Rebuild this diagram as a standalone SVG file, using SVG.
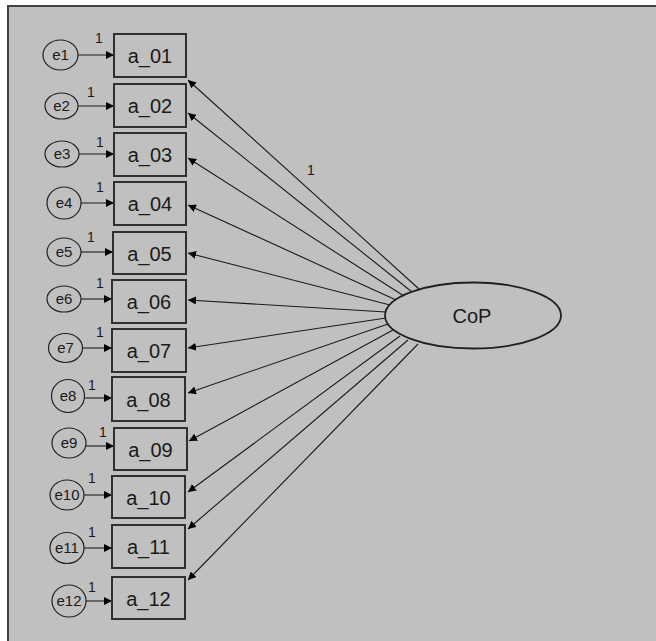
<svg xmlns="http://www.w3.org/2000/svg" width="656" height="641" viewBox="0 0 656 641">
  <style>
    .frame { fill: #c0c0c0; }
    .edge { stroke: #404040; stroke-width: 2; fill: none; }
    .box { fill: none; stroke: #303030; stroke-width: 2; }
    .err { fill: none; stroke: #202020; stroke-width: 1.2; }
    .lat { fill: none; stroke: #202020; stroke-width: 1.8; }
    .lbl { font-family: "Liberation Sans", Arial, sans-serif; font-size: 20px; fill: #1a1a1a; text-anchor: middle; }
    .elbl { font-family: "Liberation Sans", Arial, sans-serif; font-size: 15px; fill: #1a1a1a; text-anchor: middle; }
    .one { font-family: "Liberation Sans", Arial, sans-serif; font-size: 14px; fill: #1a1a1a; text-anchor: middle; }
    .con { stroke: #1a1a1a; stroke-width: 1.1; fill: none; marker-end: url(#tip); }
  </style>
  <defs>
    <marker id="tip" markerUnits="userSpaceOnUse" markerWidth="9" markerHeight="8" refX="8" refY="4" orient="auto">
      <path d="M0,0 L8,4 L0,8 z" fill="#000"/>
    </marker>
  </defs>

  <!-- canvas -->
  <rect x="0" y="0" width="656" height="641" fill="#ffffff"/>
  <rect class="frame" x="8" y="6" width="648" height="635"/>
  <path class="edge" d="M8,641 L8,6 L656,6"/>

  <!-- connectors -->
  <g id="connectors">
    <!-- error terms to indicators -->
    <line class="con" x1="78" y1="55" x2="114" y2="55"/>
    <line class="con" x1="78" y1="106" x2="114" y2="106"/>
    <line class="con" x1="79" y1="154" x2="114" y2="154"/>
    <line class="con" x1="81" y1="203" x2="114" y2="203"/>
    <line class="con" x1="81" y1="252" x2="113" y2="252"/>
    <line class="con" x1="81" y1="299" x2="112" y2="299"/>
    <line class="con" x1="83" y1="348" x2="112" y2="348"/>
    <line class="con" x1="85" y1="398" x2="112" y2="398"/>
    <line class="con" x1="86" y1="446" x2="114" y2="446"/>
    <line class="con" x1="84" y1="495" x2="112" y2="495"/>
    <line class="con" x1="84" y1="548" x2="112" y2="548"/>
    <line class="con" x1="86" y1="601" x2="112" y2="601"/>
    <!-- CoP loadings -->
    <line class="con" x1="419" y1="289" x2="188" y2="80"/>
    <line class="con" x1="412" y1="292" x2="188" y2="113"/>
    <line class="con" x1="404" y1="296" x2="188" y2="158"/>
    <line class="con" x1="396" y1="300" x2="188" y2="205"/>
    <line class="con" x1="390" y1="305" x2="188" y2="253"/>
    <line class="con" x1="386" y1="312" x2="188" y2="300"/>
    <line class="con" x1="386" y1="318" x2="188" y2="348"/>
    <line class="con" x1="388" y1="324" x2="188" y2="393"/>
    <line class="con" x1="393" y1="330" x2="189" y2="441"/>
    <line class="con" x1="400" y1="336" x2="188" y2="492"/>
    <line class="con" x1="408" y1="340" x2="188" y2="529"/>
    <line class="con" x1="418" y1="344" x2="188" y2="580"/>
    <!-- path weights -->
    <text class="one" x="311" y="175">1</text>
    <text class="one" x="99" y="43">1</text>
    <text class="one" x="91" y="97">1</text>
    <text class="one" x="100" y="147">1</text>
    <text class="one" x="100" y="192">1</text>
    <text class="one" x="91" y="242">1</text>
    <text class="one" x="100" y="288">1</text>
    <text class="one" x="100" y="337">1</text>
    <text class="one" x="92" y="390">1</text>
    <text class="one" x="103" y="437">1</text>
    <text class="one" x="92" y="483">1</text>
    <text class="one" x="92" y="537">1</text>
    <text class="one" x="92" y="592">1</text>
  </g>

  <!-- latent factor -->
  <g id="CoP">
    <ellipse class="lat" cx="473" cy="315.5" rx="88" ry="33"/>
    <text class="lbl" x="472" y="323">CoP</text>
  </g>

  <!-- indicators -->
  <g id="a_01"><rect class="box" x="114" y="34" width="72" height="43"/><text class="lbl" x="150" y="63">a_01</text></g>
  <g id="a_02"><rect class="box" x="114" y="84" width="72" height="43"/><text class="lbl" x="150" y="113">a_02</text></g>
  <g id="a_03"><rect class="box" x="114" y="133" width="72" height="43"/><text class="lbl" x="150" y="162">a_03</text></g>
  <g id="a_04"><rect class="box" x="114" y="182" width="72" height="43"/><text class="lbl" x="150" y="211">a_04</text></g>
  <g id="a_05"><rect class="box" x="113" y="232" width="73" height="42"/><text class="lbl" x="149.5" y="260.5">a_05</text></g>
  <g id="a_06"><rect class="box" x="112" y="280" width="74" height="43"/><text class="lbl" x="149" y="309">a_06</text></g>
  <g id="a_07"><rect class="box" x="112" y="329" width="74" height="43"/><text class="lbl" x="149" y="358">a_07</text></g>
  <g id="a_08"><rect class="box" x="112" y="377" width="73" height="44"/><text class="lbl" x="148.5" y="406.5">a_08</text></g>
  <g id="a_09"><rect class="box" x="114" y="428" width="73" height="42"/><text class="lbl" x="150.5" y="456.5">a_09</text></g>
  <g id="a_10"><rect class="box" x="112" y="476" width="73" height="42"/><text class="lbl" x="148.5" y="504.5">a_10</text></g>
  <g id="a_11"><rect class="box" x="112" y="525" width="73" height="43"/><text class="lbl" x="148.5" y="554">a_11</text></g>
  <g id="a_12"><rect class="box" x="112" y="577" width="73" height="42"/><text class="lbl" x="148.5" y="605.5">a_12</text></g>

  <!-- error terms -->
  <g id="e1"><ellipse class="err" cx="60.5" cy="55" rx="17.5" ry="15"/><text class="elbl" x="60.5" y="60">e1</text></g>
  <g id="e2"><ellipse class="err" cx="61.5" cy="106" rx="16.5" ry="13"/><text class="elbl" x="61.5" y="111">e2</text></g>
  <g id="e3"><ellipse class="err" cx="62" cy="154" rx="17" ry="13"/><text class="elbl" x="62" y="159">e3</text></g>
  <g id="e4"><ellipse class="err" cx="64" cy="203" rx="17" ry="16"/><text class="elbl" x="64" y="208">e4</text></g>
  <g id="e5"><ellipse class="err" cx="64" cy="252" rx="17" ry="14"/><text class="elbl" x="64" y="257">e5</text></g>
  <g id="e6"><ellipse class="err" cx="64" cy="299" rx="17" ry="13"/><text class="elbl" x="64" y="304">e6</text></g>
  <g id="e7"><ellipse class="err" cx="65.5" cy="348" rx="17" ry="14.5"/><text class="elbl" x="65.5" y="353">e7</text></g>
  <g id="e8"><ellipse class="err" cx="68" cy="396" rx="16.5" ry="16.5"/><text class="elbl" x="68" y="401">e8</text></g>
  <g id="e9"><ellipse class="err" cx="69" cy="443" rx="17" ry="15"/><text class="elbl" x="69" y="448">e9</text></g>
  <g id="e10"><ellipse class="err" cx="67" cy="495" rx="17" ry="15"/><text class="elbl" x="67" y="500">e10</text></g>
  <g id="e11"><ellipse class="err" cx="67" cy="548" rx="17" ry="15.5"/><text class="elbl" x="67" y="553">e11</text></g>
  <g id="e12"><ellipse class="err" cx="69" cy="601" rx="17" ry="16"/><text class="elbl" x="69" y="606">e12</text></g>
</svg>
